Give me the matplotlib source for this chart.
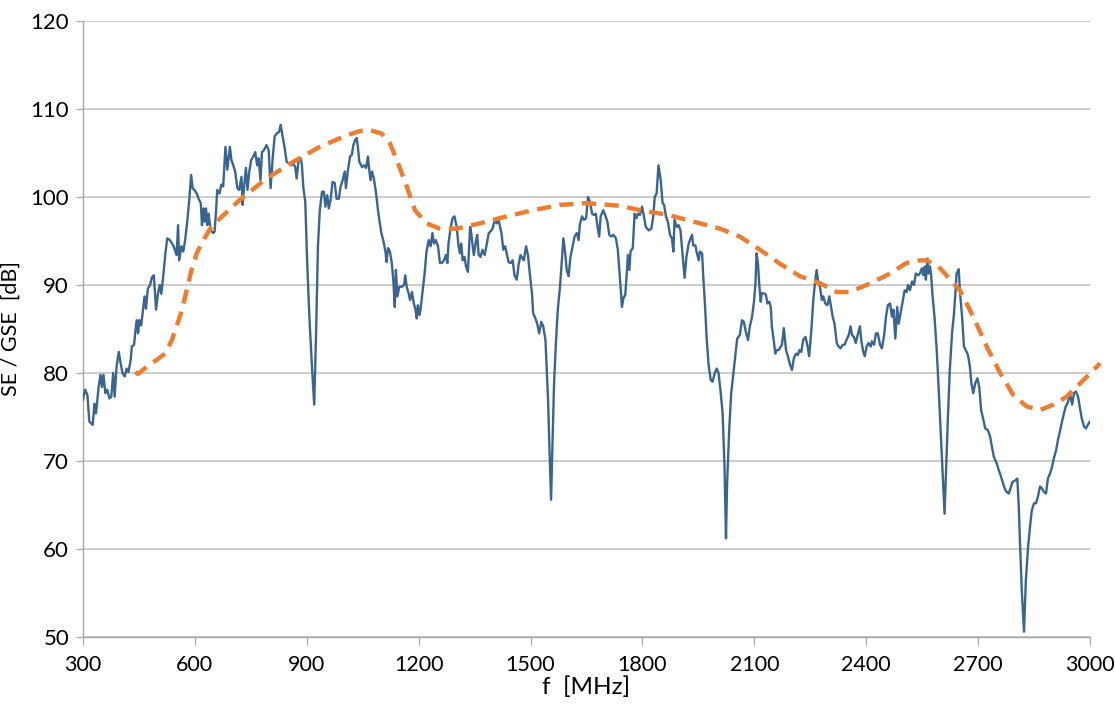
import numpy as np
import matplotlib
matplotlib.use("Agg")
import matplotlib.pyplot as plt

# measured SE curve (blue), frequency in MHz
se_freq = [
    300, 306, 312, 317, 326, 331, 335, 342, 347, 351,
    355, 360, 365, 371, 376, 381, 385, 390, 396, 401,
    406, 412, 417, 422, 428, 431, 437, 440, 444, 448,
    451, 456, 460, 465, 469, 474, 480, 485, 490, 496,
    501, 506, 510, 515, 521, 526, 533, 542, 548, 551,
    555, 558, 564, 569, 574, 580, 585, 590, 594, 599,
    605, 610, 616, 619, 623, 626, 630, 633, 637, 641,
    644, 650, 653, 657, 660, 666, 671, 676,
    682, 687, 694, 698, 703, 708, 714, 719, 725, 728,
    732, 737, 741, 746, 751, 757, 762, 767, 771, 776,
    780, 785, 792, 798, 803, 809, 814, 819, 826, 830,
    835, 841, 846, 853, 859, 864, 869, 873, 878, 884,
    887, 891, 896, 901, 907, 914, 920, 925, 930, 935,
    941, 946, 950, 955, 959, 964, 969, 975, 980, 986,
    991, 996, 1002, 1005, 1010, 1016, 1021, 1025, 1030, 1034,
    1037, 1041,
    1048, 1053, 1059, 1064, 1068, 1071, 1075, 1080, 1086, 1091,
    1096, 1100, 1105, 1111, 1114, 1118, 1123, 1128, 1132, 1136,
    1139, 1143, 1148, 1155, 1161, 1164, 1168, 1173, 1177, 1182,
    1187, 1191, 1195, 1198, 1202, 1205, 1211, 1216, 1221, 1227,
    1232, 1237, 1241, 1246, 1252, 1257, 1262, 1268, 1273, 1277,
    1280, 1286, 1291, 1296, 1302, 1307, 1311, 1314, 1318, 1323,
    1327, 1332, 1338, 1341, 1345, 1348, 1354, 1357, 1361, 1366,
    1371, 1377, 1382, 1388, 1393, 1398, 1404, 1409, 1414,
    1422, 1427, 1432, 1436, 1441, 1447, 1452, 1457, 1463, 1468,
    1473, 1479, 1482, 1488, 1493, 1498, 1504, 1507, 1513, 1518,
    1523, 1529, 1534, 1540, 1543, 1547, 1550, 1555, 1559, 1563,
    1568, 1573, 1579, 1584, 1588, 1593, 1597, 1602, 1607, 1613,
    1618, 1624, 1629, 1632, 1638, 1643, 1649, 1654, 1659, 1665,
    1670, 1675, 1679, 1684, 1688, 1695, 1700, 1706, 1711, 1716,
    1722, 1729, 1734, 1738, 1742, 1745, 1749, 1754, 1758, 1761,
    1765, 1768, 1774, 1779, 1784, 1788,
    1793, 1799, 1804, 1809, 1817, 1824, 1829, 1833, 1838, 1843,
    1849, 1854, 1858, 1863, 1868, 1874, 1879, 1883, 1886, 1892,
    1897, 1902, 1908, 1913, 1918, 1924, 1929, 1933, 1936, 1942,
    1945, 1951, 1954, 1960, 1963, 1968, 1972, 1977, 1983, 1988,
    1994, 1999, 2004, 2010, 2015, 2020, 2024, 2027, 2033, 2038,
    2044, 2049, 2054, 2061, 2067, 2072, 2077, 2083, 2088, 2094,
    2099, 2103, 2106, 2110, 2113, 2117, 2120, 2126, 2131, 2135,
    2140, 2144, 2147, 2153, 2156, 2160, 2165,
    2174, 2179, 2185, 2190, 2196, 2201, 2206, 2212, 2217, 2221,
    2226, 2231, 2237, 2242, 2247, 2253, 2258, 2263, 2267, 2271,
    2276, 2281, 2285, 2290, 2296, 2301, 2305, 2310, 2315, 2321,
    2326, 2331, 2337, 2342, 2347, 2353, 2358, 2362, 2367, 2372,
    2378, 2383, 2387, 2392, 2396, 2401, 2406, 2412, 2415, 2421,
    2426, 2431, 2437, 2442, 2448, 2453, 2458, 2464, 2469, 2473,
    2478, 2483, 2487, 2492, 2498, 2503, 2508, 2512, 2517, 2523,
    2528, 2533, 2539,
    2544, 2549, 2553, 2557, 2560, 2564, 2567, 2571, 2574, 2578,
    2583, 2589, 2594, 2599, 2605, 2610, 2614, 2619, 2624, 2630,
    2635, 2639, 2642, 2648, 2651, 2657, 2662, 2667, 2673, 2678,
    2682, 2687, 2692, 2698, 2703, 2708, 2714, 2719, 2726, 2732,
    2737, 2742, 2750, 2755, 2760, 2766, 2771, 2776, 2782, 2787,
    2792, 2800, 2805, 2809, 2812, 2817, 2823, 2828, 2834, 2839,
    2844, 2850, 2855, 2860, 2866, 2871, 2876, 2882, 2887, 2893,
    2898, 2903, 2909, 2914, 2919, 2925, 2930, 2935, 2941, 2946,
    2952, 2957, 2962, 2968, 2973, 2978, 2984, 2989, 2994, 3000,
]
se_db = [
    77.0, 78.1, 77.5, 74.5, 74.1, 76.5, 75.4, 78.4, 79.8, 78.4,
    79.8, 77.7, 78.1, 77.1, 77.3, 80.0, 77.3, 80.7, 82.4, 81.1,
    80.0, 79.6, 80.5, 80.1, 81.5, 83.0, 83.2, 84.5, 86.0, 84.5,
    86.0, 85.4, 86.8, 88.7, 87.3, 89.6, 90.0, 90.9, 91.1, 87.2,
    89.0, 90.0, 89.0, 90.9, 93.6, 95.3, 95.1, 94.5, 93.8, 93.4,
    96.8, 92.8, 94.4, 93.8, 95.1, 97.4, 99.7, 102.5, 101.0, 100.8,
    100.4, 99.8, 99.3, 96.8, 98.7, 97.2, 98.7, 96.8, 98.1, 96.6,
    96.1, 95.9, 96.1, 98.5, 100.8, 100.4, 101.4, 101.2,
    105.7, 103.1, 105.7, 104.2, 103.6, 102.9, 101.0, 100.8, 102.3, 99.1,
    101.2, 103.3, 100.8, 102.9, 104.2, 104.6, 105.1, 103.6, 104.4, 101.9,
    105.1, 105.3, 105.9, 105.3, 101.0, 104.6, 106.9, 107.2, 107.4, 108.2,
    107.0, 105.5, 104.0, 103.8, 103.6, 103.8, 103.4, 102.1, 104.2, 104.4,
    103.6, 101.0, 99.5, 92.8, 86.4, 80.7, 76.4, 84.5, 94.4, 98.5,
    100.6, 100.6, 98.9, 100.2, 98.7, 99.7, 101.7, 101.6, 99.8, 99.8,
    101.2, 101.9, 102.9, 101.0, 102.9, 104.6, 104.8, 105.9, 106.5, 106.7,
    105.7, 104.0,
    103.4, 103.6, 103.3, 104.6, 102.9, 101.9, 102.9, 102.1, 100.4, 98.5,
    97.0, 95.9, 95.1, 93.8, 92.6, 94.2, 93.8, 92.5, 90.6, 87.5,
    91.7, 88.7, 89.8, 89.8, 90.0, 91.1, 89.8, 89.05, 88.3, 89.2,
    87.9, 87.3, 86.2, 87.7, 86.6, 87.2, 89.4, 91.3, 93.8, 95.1,
    94.4, 95.9, 94.7, 95.1, 94.4, 92.5, 92.5, 92.8, 93.4, 92.5,
    94.7, 96.6, 97.6, 97.8, 96.6, 94.4, 93.6, 94.7, 92.8, 93.2,
    92.1, 91.5, 96.6, 95.9, 94.4, 93.4, 95.1, 95.7, 93.4, 93.2,
    94.0, 93.4, 94.5, 95.9, 96.1, 96.4, 97.4, 97.0, 97.4,
    95.9, 94.0, 94.4, 93.6, 92.6, 92.5, 92.8, 91.1, 90.6, 92.3,
    93.4, 93.0, 92.8, 94.4, 93.4, 91.3, 89.0, 86.8, 86.2, 85.6,
    84.5, 85.8, 85.3, 83.75, 80.7, 76.9, 72.4, 65.6, 72.4, 78.8,
    83.4, 87.2, 89.8, 92.8, 95.3, 93.6, 91.7, 91.0, 93.2, 94.4,
    95.5, 95.9, 95.1, 96.8, 97.8, 97.4, 97.6, 100.0, 99.5, 98.1,
    97.95, 98.1, 96.8, 95.5, 97.8, 98.5, 97.95, 97.2, 95.7, 95.5,
    95.7, 95.3, 94.0, 91.7, 89.4, 87.5, 88.5, 88.9, 91.3, 93.4,
    91.7, 93.8, 94.2, 98.1, 97.6, 98.1,
    97.95, 98.9, 97.8, 96.6, 96.2, 96.4, 97.8, 100.0, 100.4, 103.6,
    101.9, 99.3, 99.1, 97.8, 97.2, 95.7, 95.3, 93.8, 97.4, 96.6,
    96.8, 96.2, 93.2, 90.8, 93.2, 94.7, 95.3, 95.7, 94.5, 94.5,
    93.8, 92.8, 93.8, 93.6, 91.0, 87.5, 84.1, 81.1, 79.2, 79.0,
    80.0, 80.5, 80.0, 77.7, 75.4, 69.4, 61.2, 67.5, 73.9, 77.7,
    80.0, 81.9, 83.9, 84.3, 86.0, 85.8, 84.7, 83.75, 85.3, 86.4,
    88.1, 90.2, 93.6, 92.3, 90.2, 88.1, 89.05, 89.05, 88.9, 87.9,
    88.1, 87.5, 85.3, 83.4, 82.2, 82.6, 82.6,
    83.2, 85.1, 82.6, 81.9, 80.9, 80.35, 81.7, 82.2, 82.05, 82.6,
    82.4, 83.75, 84.1, 83.2, 81.9, 84.9, 88.3, 90.4, 91.7, 90.4,
    89.8, 88.3, 88.7, 87.9, 87.7, 88.7, 87.7, 86.4, 85.6, 83.4,
    83.0, 82.8, 83.2, 83.2, 83.75, 84.3, 85.3, 84.3, 84.1, 83.4,
    84.5, 85.3, 83.6, 82.4, 81.9, 83.0, 83.4, 83.0, 83.6, 83.2,
    84.5, 84.5, 83.2, 82.8, 84.3, 86.4, 87.7, 87.9, 86.4, 87.2,
    83.9, 87.5, 85.6, 86.8, 88.3, 89.4, 89.2, 90.0, 89.4, 90.4,
    90.0, 91.3, 91.1,
    91.3, 91.9, 91.1, 92.1, 90.6, 93.0, 91.3, 92.1, 91.1, 88.7,
    86.4, 82.6, 78.4, 73.9, 68.6, 64.0, 69.0, 75.0, 80.3, 84.5,
    86.6, 89.05, 91.3, 91.8, 89.4, 86.4, 83.0, 82.6, 82.0, 80.7,
    78.8, 77.7, 78.8, 79.4, 78.4, 75.8, 74.7, 73.7, 73.5, 72.8,
    71.6, 70.5, 69.7, 69.0, 68.4, 67.6, 66.9, 66.5, 66.3, 66.9,
    67.6, 67.8, 68.0, 64.8, 61.0, 55.3, 50.6, 56.5, 60.3, 62.5,
    64.4, 65.2, 65.2, 65.9, 67.1, 66.9, 66.5, 66.3, 68.0, 68.6,
    69.3, 70.3, 71.2, 72.4, 73.3, 74.5, 75.4, 76.2, 76.7, 77.7,
    76.4, 77.7, 77.9, 77.3, 76.0, 74.8, 73.9, 73.7, 74.1, 74.5,
]

# GSE curve (orange dashed)
gse_freq = [
    440, 448, 471, 498, 520, 538, 551, 565, 578, 591,
    605, 623, 641, 658, 676, 721, 792, 864, 935, 1007,
    1043, 1069, 1101, 1123, 1145, 1168, 1190, 1221, 1257, 1302,
    1364, 1436, 1507, 1579, 1650, 1740, 1793, 1865, 1936, 2008,
    2061, 2115, 2169, 2222, 2276, 2321, 2356, 2401, 2455, 2508,
    2544, 2562, 2598, 2651, 2687, 2723, 2759, 2794, 2830, 2866,
    2902, 2937, 2973, 3027,
]
gse_db = [
    80.1, 79.9, 80.7, 81.5, 82.2, 83.7, 85.3, 87.1, 89.4, 91.7,
    93.6, 95.1, 96.4, 97.2, 97.9, 99.7, 102.1, 104.0, 105.7, 107.0,
    107.5, 107.6, 107.2, 106.1, 103.8, 101.2, 98.5, 97.0, 96.4, 96.4,
    97.0, 97.8, 98.5, 99.1, 99.3, 99.0, 98.5, 98.0, 97.2, 96.4,
    95.5, 94.0, 92.4, 91.0, 90.2, 89.2, 89.2, 90.0, 91.1, 92.5,
    92.8, 92.8, 91.9, 89.4, 86.4, 83.0, 80.0, 77.5, 76.2, 75.8,
    76.4, 77.3, 78.8, 81.1,
]

x_ticks = list(range(300, 3001, 300))
y_ticks = list(range(50, 121, 10))

plt.rcParams['font.family'] = ['Lato', 'DejaVu Sans']

fig = plt.figure(figsize=(11.15, 7.04), dpi=100)
ax = fig.add_axes([0.0744, 0.0952, 0.9032, 0.875])

ax.plot(se_freq, se_db, color='#3A6590', lw=1.7, zorder=3)
ax.plot(gse_freq, gse_db, color='#ED7D31', lw=3.2, dashes=(3.2, 1.9),
        zorder=4, clip_on=False)

ax.set_xlim(300, 3000)
ax.set_ylim(50, 120)
ax.set_xticks(x_ticks)
ax.set_yticks(y_ticks)
ax.grid(axis='y', color='#BFBFBF', lw=1.1)
ax.set_axisbelow(True)

for s in ['top', 'right']:
    ax.spines[s].set_visible(False)
for s in ['left', 'bottom']:
    ax.spines[s].set_color('#A6A6A6')
    ax.spines[s].set_linewidth(1.0)
ax.tick_params(axis='x', length=6, color='#A6A6A6', labelsize=15.5, pad=7)
ax.tick_params(axis='y', length=5, color='#A6A6A6', labelsize=16, pad=5)

ax.set_xlabel('f  [MHz]', fontsize=17.5, labelpad=1)
ax.set_ylabel('SE / GSE  [dB]', fontsize=15.5, labelpad=7)

fig.savefig('out.png', dpi=100)
